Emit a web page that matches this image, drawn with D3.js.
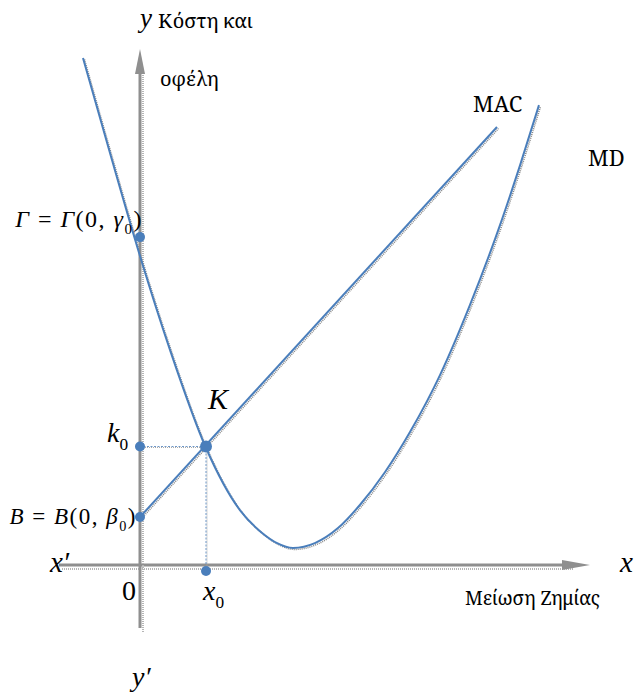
<!DOCTYPE html>
<html>
<head>
<meta charset="utf-8">
<script src="https://cdn.jsdelivr.net/npm/d3@7"></script>
<style>
  body { margin: 0; background: #fff; }
  svg { display: block; }
</style>
</head>
<body>
<div id="chart"></div>
<script>
// MD curve (marginal damage)
const mdX = [-1.9, -1.0, 0, 1.0, 2.2, 3.33, 4.07, 4.57, 5.1, 5.83, 6.6, 7.33, 8.17, 9.0, 10.0, 11.0, 12.0, 12.67, 13.3];
const mdY = [16.9, 13.73, 10.3, 7.17, 3.9, 1.83, 1.07, 0.73, 0.57, 0.73, 1.23, 2.0, 3.1, 4.43, 6.33, 8.67, 11.33, 13.33, 15.33];
// MAC line (marginal abatement cost), two ends
const macX = [0, 11.9];
const macY = [1.6, 14.6];
// special points
const pointNames = ["Γ", "k0", "B", "K", "x0"];
const pointX = [0, 0, 0, 2.2, 2.2];
const pointY = [10.93, 3.95, 1.6, 3.95, -0.2];
// axis extents
const xAxisRange = [-2.7, 15];
const yAxisRange = [-2.1, 17.2];

const width = 637, height = 695;
const blue = "#4a7ebb", grey = "#8f8f8f";
const textFont = "Noto Serif", mathFont = "Liberation Serif";

const svg = d3.select("#chart").append("svg")
    .attr("width", width)
    .attr("height", height);

const x = d3.scaleLinear().domain([0, 15]).range([140, 590]);
const y = d3.scaleLinear().domain([0, 17]).range([565, 55]);

// axes with a dotted shadow
function axisLine(x1, y1, x2, y2) {
    svg.append("line")
        .attr("x1", x1 + 3).attr("y1", y1 + 4).attr("x2", x2 + 3).attr("y2", y2 + 4)
        .attr("stroke", "#b5b5b5").attr("stroke-width", 2).attr("stroke-dasharray", "1,1");
    svg.append("line")
        .attr("x1", x1).attr("y1", y1).attr("x2", x2).attr("y2", y2)
        .attr("stroke", grey).attr("stroke-width", 3);
}
axisLine(x(xAxisRange[0]), y(0), x(xAxisRange[1]) - 20, y(0));
axisLine(x(0), y(yAxisRange[0]), x(0), y(yAxisRange[1]) + 20);

// arrow heads
const xt = x(xAxisRange[1]), yt = y(yAxisRange[1]);
svg.append("path")
    .attr("d", `M${xt},${y(0)} L${xt - 28},${y(0) - 5} L${xt - 28},${y(0) + 5} Z`)
    .attr("fill", grey);
svg.append("path")
    .attr("d", `M${x(0)},${yt} L${x(0) - 5},${yt + 25} L${x(0) + 5},${yt + 25} Z`)
    .attr("fill", grey);

const line = d3.line().x(d => x(d[0])).y(d => y(d[1]));

function drawCurve(pts, curve) {
    line.curve(curve);
    svg.append("path")
        .attr("d", line(pts))
        .attr("transform", "translate(1.5,1.5)")
        .attr("fill", "none").attr("stroke", "#888")
        .attr("stroke-width", 1.6).attr("stroke-dasharray", "1,1");
    svg.append("path")
        .attr("d", line(pts))
        .attr("fill", "none").attr("stroke", blue).attr("stroke-width", 2);
}

drawCurve(d3.zip(mdX, mdY), d3.curveMonotoneX);
drawCurve(d3.zip(macX, macY), d3.curveLinear);

// guide lines from K
const kx = pointX[3], ky = pointY[3];
[[0, ky, kx, ky], [kx, ky, kx, 0]].forEach(s => {
    svg.append("line")
        .attr("x1", x(s[0]) + 1).attr("y1", y(s[1]) + 1).attr("x2", x(s[2]) + 1).attr("y2", y(s[3]) + 1)
        .attr("stroke", "#aaa").attr("stroke-width", 1).attr("stroke-dasharray", "1,1");
    svg.append("line")
        .attr("x1", x(s[0])).attr("y1", y(s[1])).attr("x2", x(s[2])).attr("y2", y(s[3]))
        .attr("stroke", blue).attr("stroke-width", 0.8).attr("stroke-dasharray", "2,1.5");
});

// dots
svg.selectAll("circle.pt")
    .data(pointNames)
    .enter()
    .append("circle")
    .attr("class", "pt")
    .attr("cx", (d, i) => x(pointX[i]))
    .attr("cy", (d, i) => y(pointY[i]))
    .attr("r", d => d === "K" ? 6 : 5)
    .attr("fill", blue);

// labels
function label(px, py, size, parts, opts) {
    opts = opts || {};
    const t = svg.append("text")
        .attr("x", px).attr("y", py)
        .attr("font-size", size)
        .attr("font-family", opts.font || mathFont)
        .attr("text-anchor", opts.anchor || "start")
        .attr("letter-spacing", opts.spacing || 0)
        .attr("fill", "#000");
    parts.forEach(p => {
        const s = t.append("tspan").text(p.t);
        if (p.i) s.attr("font-style", "italic");
        if (p.sub) s.attr("font-size", size * 0.62).attr("dy", size * 0.3);
        if (p.up) s.attr("dy", -size * 0.3);
    });
    return t;
}

label(x(0), 27, 27, [{t: "y", i: true}]);
label(158, 28, 20, [{t: "Κόστη και"}], {font: textFont});
label(160, 86, 20, [{t: "οφέλη"}], {font: textFont});
label(473, 112, 22, [{t: "MAC"}], {font: textFont});
label(588, 166, 22, [{t: "MD"}], {font: textFont});
label(465, 605, 19, [{t: "Μείωση Ζημίας"}], {font: textFont});
label(620, y(0) + 7, 29, [{t: "x", i: true}]);
label(50, y(0) + 7, 29, [{t: "x′", i: true}]);
label(122, y(0) + 35, 28, [{t: "0"}]);
label(x(kx) - 3, y(0) + 35, 28, [{t: "x", i: true}, {t: "0", sub: true}]);
label(132, 686, 28, [{t: "y′", i: true}]);
label(x(kx) + 2, y(ky) - 38, 30, [{t: "K", i: true}]);
label(107, y(ky) - 5, 28, [{t: "k", i: true}, {t: "0", sub: true}]);
label(143, y(pointY[0]) - 10, 24, [
    {t: "Γ", i: true}, {t: " = "}, {t: "Γ", i: true}, {t: "(0, "},
    {t: "γ", i: true}, {t: "0", sub: true}, {t: ")", up: true}], {anchor: "end", spacing: 1.5});
label(137, y(pointY[2]) + 7, 23, [
    {t: "B", i: true}, {t: " = "}, {t: "B", i: true}, {t: "(0, "},
    {t: "β", i: true}, {t: "0", sub: true}, {t: ")", up: true}], {anchor: "end", spacing: 1.5});
</script>
</body>
</html>
